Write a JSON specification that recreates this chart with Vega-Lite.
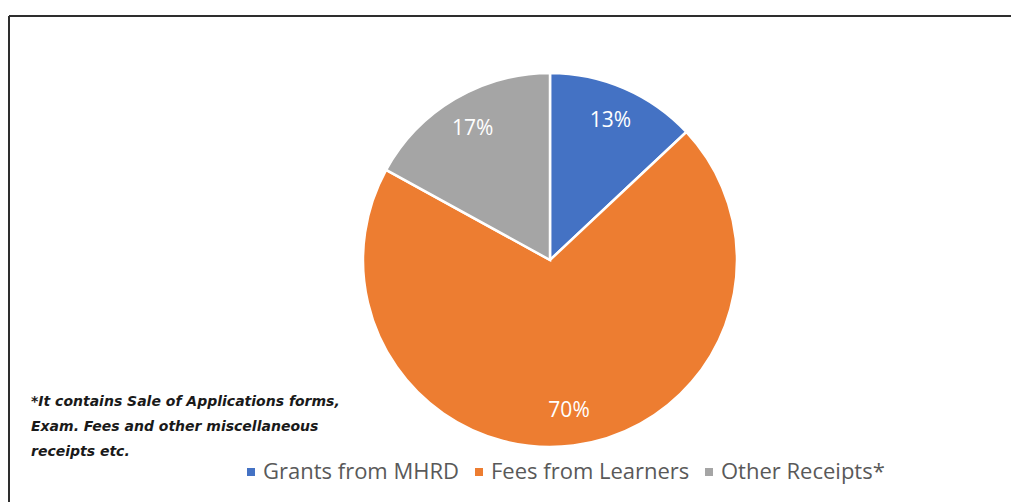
{
  "$schema": "https://vega.github.io/schema/vega-lite/v6.json",
  "width": 1082,
  "height": 488,
  "autosize": {"type": "none"},
  "padding": {"left": 9, "top": 16, "right": -80, "bottom": -2},
  "background": "white",
  "usermeta": {"embedOptions": {"actions": false}},
  "view": {"stroke": "#2e2e2e", "strokeWidth": 2, "fill": "white", "strokeDash": [1082, 1570, 488, 0]},
  "title": {
    "text": ["*It contains Sale of Applications forms,", "Exam. Fees and other miscellaneous", "receipts etc."],
    "orient": "top",
    "anchor": "start",
    "frame": "group",
    "offset": 0,
    "dx": 22,
    "dy": 443,
    "baseline": "top",
    "lineHeight": 25,
    "font": "DejaVu Sans",
    "fontSize": 14,
    "fontStyle": "italic",
    "fontWeight": "bold",
    "color": "#1a1a1a"
  },
  "data": {
    "values": [
      {"category": "Grants from MHRD", "share": 13, "label": "13%", "idx": 1},
      {"category": "Fees from Learners", "share": 70, "label": "70%", "idx": 2},
      {"category": "Other Receipts*", "share": 17, "label": "17%", "idx": 3}
    ]
  },
  "encoding": {
    "theta": {"field": "share", "type": "quantitative", "stack": true},
    "order": {"field": "idx", "type": "quantitative"}
  },
  "layer": [
    {
      "mark": {"type": "arc", "outerRadius": 187, "stroke": "white", "strokeWidth": 2.5},
      "encoding": {
        "color": {
          "field": "category",
          "type": "nominal",
          "sort": ["Grants from MHRD", "Fees from Learners", "Other Receipts*"],
          "scale": {
            "domain": ["Grants from MHRD", "Fees from Learners", "Other Receipts*"],
            "range": ["#4472C4", "#ED7D31", "#A5A5A5"]
          },
          "legend": {
            "orient": "none",
            "legendX": 231,
            "legendY": 445,
            "direction": "horizontal",
            "title": null,
            "symbolType": "square",
            "symbolSize": 64,
            "symbolStrokeWidth": 0,
            "labelFont": "Open Sans",
            "labelFontSize": 22,
            "labelLimit": 0,
            "labelColor": "#595959",
            "labelOffset": 1,
            "columnPadding": 8
          }
        }
      }
    },
    {
      "mark": {"type": "text", "radius": 152, "fill": "white", "font": "Open Sans", "fontSize": 21},
      "encoding": {"text": {"field": "label", "type": "nominal"}}
    }
  ]
}
